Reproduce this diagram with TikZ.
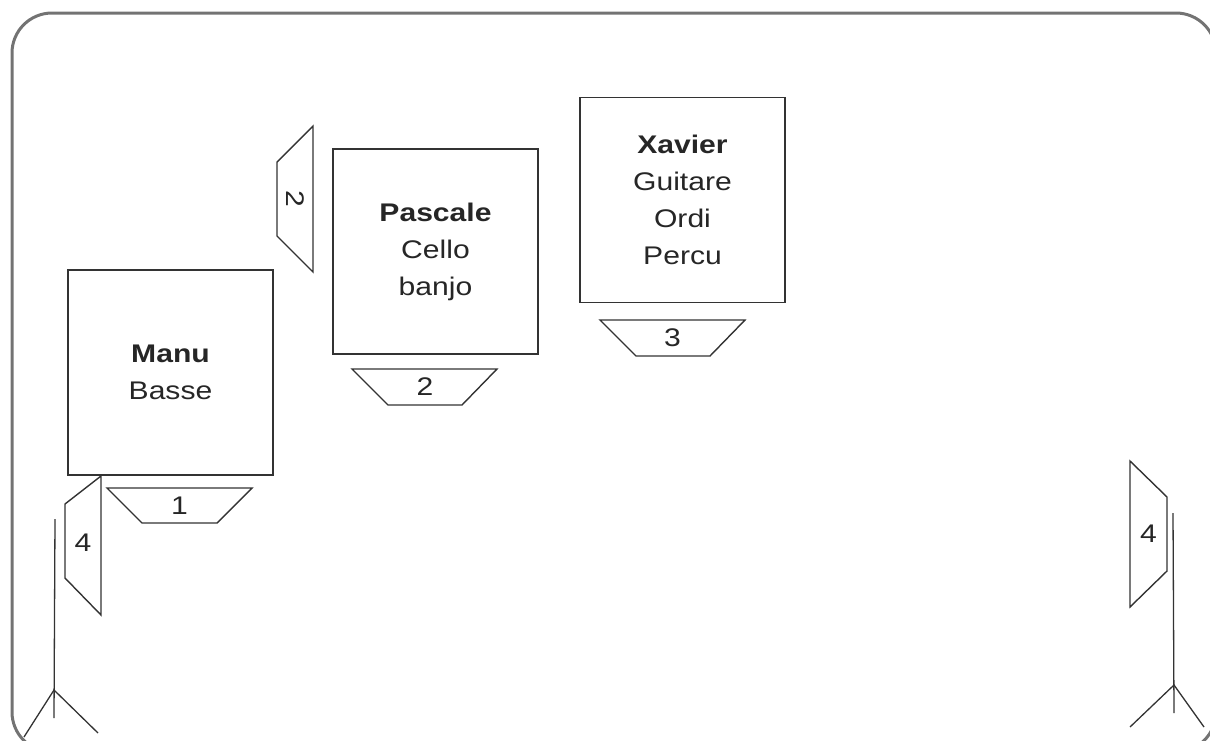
\documentclass[tikz,border=0pt]{standalone}
\usepackage{fontspec}
\setmainfont[FakeStretch=1.18]{Liberation Sans}
\begin{document}
\begin{tikzpicture}[x=1pt,y=-1pt,line join=miter,
  stroke/.style={draw=black!80,line width=1.4pt},
  box/.style={stroke,fill=white,minimum width=205pt,minimum height=205pt,inner sep=0pt,
    font=\fontsize{25.5}{37}\selectfont,align=center,text=black!85},
  wedge/.style={stroke},
  num/.style={font=\fontsize{25.5}{30}\selectfont,text=black!85,inner sep=0pt},
  border/.style={draw=black!55,line width=3pt,rounded corners=40pt},
  standline/.style={draw=black!80,line width=1.3pt}]
\useasboundingbox (0,0) rectangle (1210,740);
\begin{scope}
  \clip (0,0) rectangle (1210,740);
  \draw[border] (12,13) rectangle (1216,752);
\end{scope}

% musicians
\node[box] (manu) at (170.5,372.5) {{\bfseries Manu}\\Basse};
\node[box] (pascale) at (435.5,251.5) {{\bfseries Pascale}\\Cello\\banjo};
\node[box] (xavier) at (682.5,200) {{\bfseries Xavier}\\Guitare\\Ordi\\Percu};

% monitor wedges
\draw[wedge] (107,488)--(252,488)--(217,523)--(142,523)--cycle;
\node[num] (m1) at (179.5,505.5) {1};
\draw[wedge] (352,369)--(497,369)--(462,405)--(388,405)--cycle;
\node[num] (m2) at (425,387) {2};
\draw[wedge] (600,320)--(745,320)--(710,356)--(636,356)--cycle;
\node[num] (m3) at (672.5,338) {3};
\draw[wedge] (313,126)--(313,272)--(277,236)--(277,162)--cycle;
\node[num,rotate=-90] (m2s) at (295,199) {2};

% speakers
\draw[wedge] (101,476)--(101,615)--(65,578)--(65,504)--cycle;
\node[num] (s4l) at (83,543) {4};
\draw[wedge] (1130,461)--(1130,607)--(1167,571)--(1167,497)--cycle;
\node[num] (s4r) at (1148.5,534) {4};

% stands
\coordinate (lapex) at (54,690);
\draw[standline] (55,519)--(54,718);
\draw[standline] (24,737)--(lapex)--(98,733);
\coordinate (rapex) at (1174,685);
\draw[standline] (1173,513)--(1174,713);
\draw[standline] (1130,727)--(rapex)--(1204,727);
\end{tikzpicture}
\end{document}
